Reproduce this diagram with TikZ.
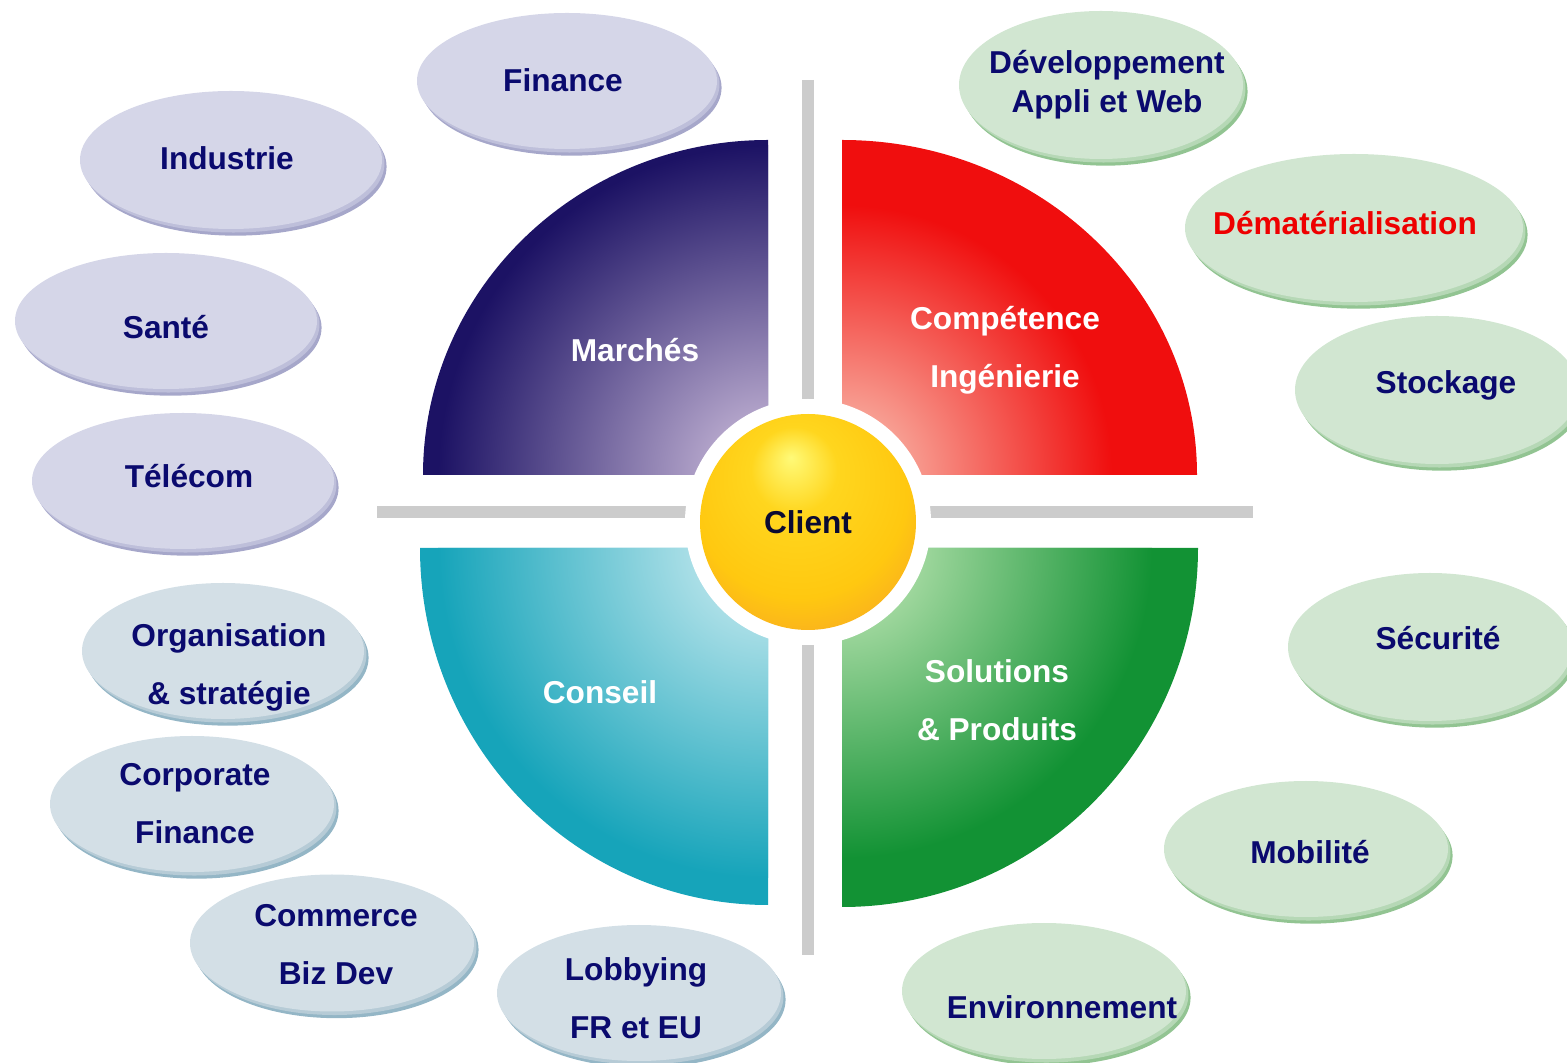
\documentclass[tikz,border=0pt]{standalone}
\usepackage{fontspec}
\setmainfont{Liberation Sans}
\usepackage{tikz}
\usetikzlibrary{shapes.geometric,shadows}

\definecolor{navytext}{RGB}{10,10,110}
\definecolor{clienttext}{RGB}{10,10,50}
\definecolor{redtext}{RGB}{238,0,0}
\definecolor{bargray}{RGB}{204,204,204}
% bubbles
\definecolor{lavtop}{RGB}{213,214,232}
\definecolor{lavmid}{RGB}{190,191,218}
\definecolor{lavrim}{RGB}{166,167,202}
\definecolor{slatetop}{RGB}{211,223,230}
\definecolor{slatemid}{RGB}{182,203,214}
\definecolor{slaterim}{RGB}{148,182,198}
\definecolor{greentop}{RGB}{209,230,209}
\definecolor{greenmid}{RGB}{182,216,182}
\definecolor{greenrim}{RGB}{146,196,146}
% quadrants
\definecolor{marchesin}{RGB}{212,196,224}
\definecolor{marchesout}{RGB}{28,18,100}
\definecolor{ingin}{RGB}{250,204,188}
\definecolor{ingout}{RGB}{240,14,14}
\definecolor{conseilin}{RGB}{214,240,244}
\definecolor{conseilout}{RGB}{22,164,186}
\definecolor{solin}{RGB}{206,238,192}
\definecolor{solout}{RGB}{18,146,52}
% client
\definecolor{sunhi}{RGB}{255,250,120}
\definecolor{sunmain}{RGB}{255,214,30}
\definecolor{sunmid}{RGB}{255,200,16}
\definecolor{sunedge}{RGB}{246,160,40}

\pgfdeclareradialshading{sunball}{\pgfpoint{-4bp}{15bp}}{color(0bp)=(sunhi); color(10bp)=(sunmain); color(25bp)=(sunmid); color(38bp)=(sunedge); color(50bp)=(sunedge)}

\begin{document}
\begin{tikzpicture}[font=\fontsize{9}{16.5}\selectfont\bfseries]
    \tikzstyle{bubble}=[ellipse, inner sep=0pt]
    \tikzstyle{marketbubble}=[bubble, fill=lavtop,
      drop shadow={shadow xshift=1.3pt, shadow yshift=-1.9pt, fill=lavrim, opacity=1},
      drop shadow={shadow xshift=0.7pt, shadow yshift=-1pt, fill=lavmid, opacity=1}]
    \tikzstyle{advicebubble}=[bubble, fill=slatetop,
      drop shadow={shadow xshift=1.3pt, shadow yshift=-1.9pt, fill=slaterim, opacity=1},
      drop shadow={shadow xshift=0.7pt, shadow yshift=-1pt, fill=slatemid, opacity=1}]
    \tikzstyle{techbubble}=[bubble, fill=greentop,
      drop shadow={shadow xshift=1.3pt, shadow yshift=-1.9pt, fill=greenrim, opacity=1},
      drop shadow={shadow xshift=0.7pt, shadow yshift=-1pt, fill=greenmid, opacity=1}]
    \tikzstyle{txt}=[align=center, text=navytext]
    \tikzstyle{quadtxt}=[align=center, text=white]
    \tikzstyle{bar}=[line width=0.12cm, draw=bargray]

    \useasboundingbox (0,0) rectangle (15.67,-10.63);

    % cross
    \draw[bar] (8.08,-0.80) -- (8.08,-9.55);
    \draw[bar] (3.77,-5.12) -- (12.53,-5.12);

    % quadrants
    \begin{scope}
      \clip (7.68,-4.75) -- (4.23,-4.75) arc[start angle=180, end angle=90, x radius=3.45, y radius=3.35] -- cycle;
      \fill[marchesout] (4,-1.2) rectangle (7.8,-4.8);
      \shade[inner color=marchesin, outer color=marchesout] (7.68,-4.75) circle (3.3);
    \end{scope}
    \begin{scope}
      \clip (8.42,-4.75) -- (11.97,-4.75) arc[start angle=0, end angle=90, x radius=3.55, y radius=3.35] -- cycle;
      \fill[ingout] (8.3,-1.2) rectangle (12.1,-4.8);
      \shade[inner color=ingin, outer color=ingout] (8.42,-4.75) circle (2.7);
    \end{scope}
    \begin{scope}
      \clip (7.68,-5.48) -- (4.20,-5.48) arc[start angle=180, end angle=270, x radius=3.48, y radius=3.57] -- cycle;
      \fill[conseilout] (4,-5.4) rectangle (7.8,-9.2);
      \shade[inner color=conseilin, outer color=conseilout] (7.68,-5.48) circle (3.3);
    \end{scope}
    \begin{scope}
      \clip (8.42,-5.48) -- (11.98,-5.48) arc[start angle=0, end angle=-90, x radius=3.56, y radius=3.59] -- cycle;
      \fill[solout] (8.3,-5.4) rectangle (12.1,-9.2);
      \shade[inner color=solin, outer color=solout] (8.42,-5.48) circle (3.1);
    \end{scope}

    % centre
    \fill[white] (8.08,-5.22) circle (1.23);
    \node[circle, minimum size=2.16cm, inner sep=0pt, shade, shading=sunball, text=clienttext] (client) at (8.08,-5.22) {Client};

    \node[quadtxt] (marches) at (6.35,-3.50) {March\'es};
    \node[quadtxt] (ingenierie) at (10.05,-3.50) {Comp\'etence\\Ing\'enierie};
    \node[quadtxt] (conseil) at (6.00,-6.92) {Conseil};
    \node[quadtxt] (solutions) at (9.97,-7.00) {Solutions\\\& Produits};

    % markets
    \node[marketbubble, minimum width=3.0cm, minimum height=1.36cm] (finance) at (5.67,-0.81) {};
    \node[marketbubble, minimum width=3.02cm, minimum height=1.38cm] (industrie) at (2.31,-1.60) {};
    \node[marketbubble, minimum width=3.02cm, minimum height=1.36cm] (sante) at (1.66,-3.21) {};
    \node[marketbubble, minimum width=3.02cm, minimum height=1.36cm] (telecom) at (1.83,-4.81) {};

    % advice
    \node[advicebubble, minimum width=2.82cm, minimum height=1.36cm] (organisation) at (2.23,-6.51) {};
    \node[advicebubble, minimum width=2.84cm, minimum height=1.36cm] (corporate) at (1.92,-8.04) {};
    \node[advicebubble, minimum width=2.84cm, minimum height=1.37cm] (commerce) at (3.32,-9.43) {};
    \node[advicebubble, minimum width=2.84cm, minimum height=1.36cm] (lobbying) at (6.39,-9.93) {};

    % engineering
    \node[techbubble, minimum width=2.84cm, minimum height=1.48cm] (devweb) at (11.01,-0.85) {};
    \node[techbubble, minimum width=3.38cm, minimum height=1.48cm] (demat) at (13.54,-2.28) {};
    \node[techbubble, minimum width=2.84cm, minimum height=1.48cm] (stockage) at (14.37,-3.90) {};
    \node[techbubble, minimum width=2.84cm, minimum height=1.48cm] (securite) at (14.30,-6.47) {};
    \node[techbubble, minimum width=2.84cm, minimum height=1.36cm] (mobilite) at (13.06,-8.49) {};
    \node[techbubble, minimum width=2.84cm, minimum height=1.36cm] (environnement) at (10.44,-9.91) {};

    % labels
    \node[txt] (finance-txt) at (5.63,-0.80) {Finance};
    \node[txt] (industrie-txt) at (2.27,-1.58) {Industrie};
    \node[txt] (sante-txt) at (1.66,-3.27) {Sant\'e};
    \node[txt] (telecom-txt) at (1.89,-4.76) {T\'el\'ecom};
    \node[txt] (organisation-txt) at (2.29,-6.67) {Organisation\\\& strat\'egie};
    \node[txt] (corporate-txt) at (1.95,-8.04) {Corporate\\Finance};
    \node[txt] (commerce-txt) at (3.36,-9.45) {Commerce\\Biz Dev};
    \node[txt] (lobbying-txt) at (6.36,-9.98) {Lobbying\\FR et EU};
    \node[txt, font=\fontsize{9}{11}\selectfont\bfseries] (devweb-txt) at (11.07,-0.85) {D\'eveloppement\\Appli et Web};
    \node[txt, text=redtext] (demat-txt) at (13.45,-2.23) {D\'emat\'erialisation};
    \node[txt] (stockage-txt) at (14.46,-3.85) {Stockage};
    \node[txt] (securite-txt) at (14.38,-6.38) {S\'ecurit\'e};
    \node[txt] (mobilite-txt) at (13.10,-8.52) {Mobilit\'e};
    \node[txt] (environnement-txt) at (10.62,-10.07) {Environnement};

  \end{tikzpicture}
\end{document}
